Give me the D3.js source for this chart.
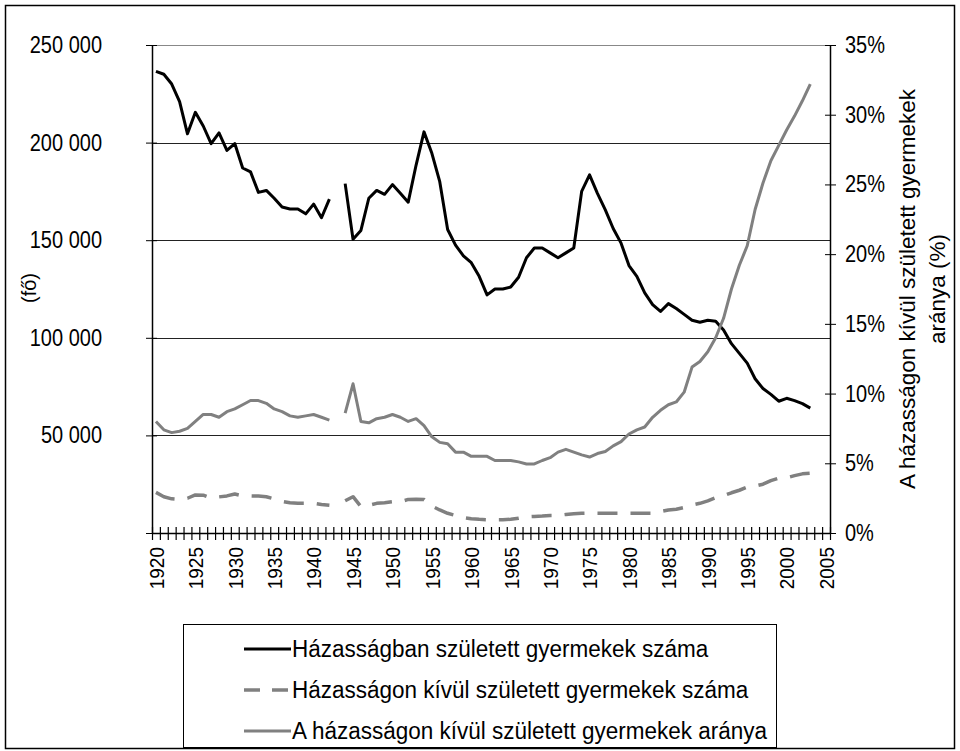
<!DOCTYPE html>
<html lang="hu">
<head>
<meta charset="utf-8">
<title>Házasságban és házasságon kívül született gyermekek</title>
<script src="https://d3js.org/d3.v7.min.js"></script>
<style type="text/css">
  body { margin: 0; background: #fff; }
  text { font-family: "Liberation Sans", Arial, sans-serif; fill: #000; }
</style>
</head>
<body>
<script type="text/javascript">

// years of the data (1943 missing from the source)
var years = [1920,1921,1922,1923,1924,1925,1926,1927,1928,1929,
  1930,1931,1932,1933,1934,1935,1936,1937,1938,1939,
  1940,1941,1942,1943,1944,1945,1946,1947,1948,1949,
  1950,1951,1952,1953,1954,1955,1956,1957,1958,1959,
  1960,1961,1962,1963,1964,1965,1966,1967,1968,1969,
  1970,1971,1972,1973,1974,1975,1976,1977,1978,1979,
  1980,1981,1982,1983,1984,1985,1986,1987,1988,1989,
  1990,1991,1992,1993,1994,1995,1996,1997,1998,1999,
  2000,2001,2002,2003];

// Házasságban született gyermekek száma (fő)
var married = [236500,235000,230000,221000,204500,215500,208500,199500,205000,196000,
  199500,187000,185000,174500,175500,171500,167000,166000,166000,163500,
  168500,161500,171000,null,179000,150500,155000,171500,175500,173500,
  178500,174000,169500,188500,205500,194500,180000,155500,147500,142000,
  138500,131500,122000,125000,125000,126000,131000,141000,146000,146000,
  143500,141000,143500,146000,175000,183500,174000,165500,156000,148500,
  137000,131500,123000,117000,113500,117500,115000,112000,109000,108000,
  109000,108500,104000,97000,92000,87000,79000,74000,71000,67500,
  69000,67800,66300,64000];

// Házasságon kívül született gyermekek száma (fő)
var outside = [20800,18600,17500,17200,17800,19500,19400,17900,18500,19000,
  20000,19000,19000,18900,18600,17500,16200,15500,15200,15200,
  15200,14600,14200,null,16500,18600,13500,14200,15200,15500,
  16000,16000,17200,17300,17200,13800,11800,10100,9000,7900,
  7300,7000,6800,6800,6800,7000,7500,8300,8500,8700,
  9000,9000,9500,9800,10100,10200,10100,10100,10100,10100,
  10100,10100,10100,10100,11000,11800,12200,13100,14300,15200,
  16500,18100,19100,20600,21900,23500,24000,25000,26800,28100,
  28300,29400,30300,30600];

// A házasságon kívül született gyermekek aránya (%)
var share = [8.0,7.4,7.2,7.3,7.5,8.0,8.5,8.5,8.3,8.7,
  8.9,9.2,9.5,9.5,9.3,8.9,8.7,8.4,8.3,8.4,
  8.5,8.3,8.1,null,8.6,10.7,8.0,7.9,8.2,8.3,
  8.5,8.3,8.0,8.2,7.7,6.9,6.5,6.4,5.8,5.8,
  5.5,5.5,5.5,5.2,5.2,5.2,5.1,4.95,4.95,5.2,
  5.4,5.8,6.0,5.8,5.6,5.45,5.7,5.85,6.25,6.55,
  7.1,7.4,7.6,8.3,8.8,9.2,9.4,10.1,11.9,12.3,
  13.0,14.0,15.4,17.5,19.2,20.6,23.2,25.1,26.7,27.8,
  28.9,29.9,31.0,32.2];

var xLabels = [1920,1925,1930,1935,1940,1945,1950,1955,1960,1965,1970,1975,1980,1985,1990,1995,2000,2005];
var leftTicks = [0,50000,100000,150000,200000,250000];
var rightTicks = [0,5,10,15,20,25,30,35];
var legendLabels = ["Házasságban született gyermekek száma",
  "Házasságon kívül született gyermekek száma",
  "A házasságon kívül született gyermekek aránya"];

var W = 960, H = 751;
var plot = {left: 152, right: 830, top: 45, bottom: 533};
var stretch = "scale(1,1.18)";   // the original text is a bit taller than plain Arial

var svg = d3.select("body").append("svg")
  .attr("width", W)
  .attr("height", H);

// outer frame
svg.append("rect")
  .attr("x", 5.5).attr("y", 5.5)
  .attr("width", 949).attr("height", 743)
  .attr("fill", "none").attr("stroke", "#000").attr("stroke-width", 1.5);

// scales: category axis, one slot per year, points in the middle of the slot
var x = d3.scaleLinear().domain([1919.5, 2005.5]).range([plot.left, plot.right]);
var yL = d3.scaleLinear().domain([0, 250000]).range([plot.bottom, plot.top]);
var yR = d3.scaleLinear().domain([0, 35]).range([plot.bottom, plot.top]);

// gridlines
svg.append("g").selectAll("line")
  .data(leftTicks.slice(1))
  .enter().append("line")
  .attr("x1", plot.left).attr("x2", plot.right)
  .attr("y1", function(d) { return Math.round(yL(d)) + 0.5; })
  .attr("y2", function(d) { return Math.round(yL(d)) + 0.5; })
  .attr("stroke", function(d) { return d === 250000 ? "#888" : "#222"; })
  .attr("stroke-width", 1);

// left axis
var fmt = function(d) { return d === 0 ? "" : d3.format(",")(d).replace(/,/g, " "); };
var gL = svg.append("g")
  .attr("transform", "translate(" + plot.left + ",0)")
  .call(d3.axisLeft(yL).tickValues(leftTicks).tickFormat(fmt).tickSizeInner(6).tickSizeOuter(0).tickPadding(44));
gL.selectAll(".tick line").attr("x1", 5);
gL.selectAll("text").attr("font-size", 20).attr("font-family", "Liberation Sans, Arial, sans-serif")
  .attr("transform", stretch);
gL.select(".domain").attr("stroke-width", 1.5);

// right axis
var gR = svg.append("g")
  .attr("transform", "translate(" + plot.right + ",0)")
  .call(d3.axisRight(yR).tickValues(rightTicks).tickFormat(function(d) { return d + "%"; })
    .tickSizeInner(6).tickSizeOuter(0).tickPadding(9));
gR.selectAll(".tick line").attr("x1", -5);
gR.selectAll("text").attr("font-size", 20).attr("font-family", "Liberation Sans, Arial, sans-serif")
  .attr("transform", stretch);
gR.select(".domain").attr("stroke-width", 1.5);

// bottom axis: ticks between the years
var boundaries = d3.range(1919.5, 2006, 1);
var gB = svg.append("g")
  .attr("transform", "translate(0," + plot.bottom + ")")
  .call(d3.axisBottom(x).tickValues(boundaries).tickFormat("").tickSizeInner(7).tickSizeOuter(0));
gB.selectAll(".tick line").attr("y1", -6).attr("stroke-width", 1.2);
gB.select(".domain").attr("stroke-width", 1.5);

// year labels, rotated
var gBL = svg.append("g")
  .attr("transform", "translate(0," + plot.bottom + ")")
  .call(d3.axisBottom(x).tickValues(xLabels).tickFormat(d3.format("d")).tickSize(0));
gBL.select(".domain").remove();
gBL.selectAll("text")
  .attr("font-size", 19)
  .attr("font-family", "Liberation Sans, Arial, sans-serif")
  .attr("text-anchor", "end")
  .attr("transform", "rotate(-90) scale(1,1.1)")
  .attr("x", -14)
  .attr("y", 0)
  .attr("dy", "0.35em");

// series
var series = [
  {values: married, scale: yL, color: "#000", dash: null, width: 3},
  {values: outside, scale: yL, color: "#808080", dash: "20,13", width: 3.5},
  {values: share, scale: yR, color: "#808080", dash: null, width: 3}
];

series.forEach(function(s) {
  var line = d3.line()
    .defined(function(d, i) { return s.values[i] !== null; })
    .x(function(d) { return x(d); })
    .y(function(d, i) { return s.scale(s.values[i]); });
  svg.append("path")
    .datum(years)
    .attr("fill", "none")
    .attr("stroke", s.color)
    .attr("stroke-width", s.width)
    .attr("stroke-dasharray", s.dash)
    .attr("stroke-linejoin", "round")
    .attr("d", line);
});

// axis titles
svg.append("text")
  .attr("transform", "translate(36,288) rotate(-90)")
  .attr("text-anchor", "middle")
  .attr("font-size", 20)
  .text("(fő)");

var rt = svg.append("text")
  .attr("transform", "translate(915,289) rotate(-90)")
  .attr("text-anchor", "middle")
  .attr("font-size", 22.5);
rt.append("tspan").attr("x", 0).attr("dy", 0).text("A házasságon kívül született gyermekek");
rt.append("tspan").attr("x", 0).attr("dy", 30).text("aránya (%)");

// legend
var lg = svg.append("g");
lg.append("rect")
  .attr("x", 183.5).attr("y", 624.5)
  .attr("width", 593).attr("height", 123)
  .attr("fill", "#fff").attr("stroke", "#000").attr("stroke-width", 1);

var legendRows = lg.selectAll("g.row")
  .data(series)
  .enter().append("g")
  .attr("class", "row")
  .attr("transform", function(d, i) { return "translate(0," + (649 + i * 41) + ")"; });

legendRows.append("line")
  .attr("x1", 244).attr("x2", 291)
  .attr("stroke", function(d) { return d.color; })
  .attr("stroke-width", function(d) { return d.width; })
  .attr("stroke-dasharray", function(d) { return d.dash ? "16,12" : null; });

legendRows.append("text")
  .attr("x", 292)
  .attr("dy", "0.33em")
  .attr("font-size", 22.5)
  .attr("transform", "scale(1,1.1)")
  .text(function(d, i) { return legendLabels[i]; });

</script>
</body>
</html>
